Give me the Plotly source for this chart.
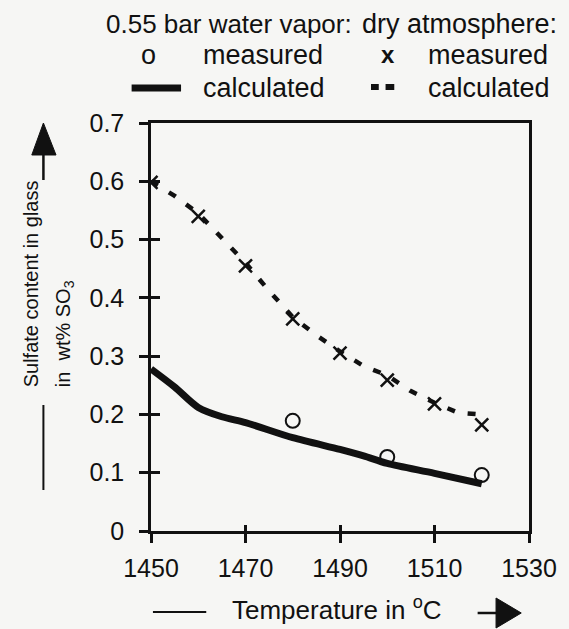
import plotly.graph_objects as go

# Sulfate retention in glass vs. melt temperature
temp_measured = [1480, 1500, 1520]
so3_water_measured = [0.189, 0.127, 0.096]

temp_water_calc = [1450, 1455, 1460, 1465, 1470, 1480, 1490, 1495, 1500, 1510, 1520]
so3_water_calc = [0.278, 0.247, 0.212, 0.196, 0.186, 0.160, 0.140, 0.129, 0.116, 0.099, 0.081]

temp_dry_measured = [1450, 1460, 1470, 1480, 1490, 1500, 1510, 1520]
so3_dry_measured = [0.598, 0.540, 0.455, 0.364, 0.305, 0.259, 0.218, 0.182]

temp_dry_calc = [1450, 1455, 1460, 1465, 1470, 1475, 1480, 1485, 1490, 1495, 1500,
                 1505, 1510, 1515, 1520]
so3_dry_calc = [0.600, 0.575, 0.545, 0.502, 0.460, 0.412, 0.367, 0.336, 0.308, 0.283,
                0.267, 0.240, 0.220, 0.203, 0.200]

x_ticks = [1450, 1470, 1490, 1510, 1530]
y_ticks = [0, 0.1, 0.2, 0.3, 0.4, 0.5, 0.6, 0.7]
y_tick_text = ["0", "0.1", "0.2", "0.3", "0.4", "0.5", "0.6", "0.7"]

INK = "#111111"
BG = "#f6f6f4"
FONT = "Liberation Sans, Arial, Helvetica, sans-serif"

W, H = 569, 629
ML, MR, MT, MB = 151, 28, 123, 98
PW, PH = W - ML - MR, H - MT - MB


def px(x):
    return (x - ML) / PW


def py(y):
    return (H - MB - y) / PH


fig = go.Figure()

fig.add_trace(go.Scatter(
    x=temp_water_calc, y=so3_water_calc, mode="lines",
    line=dict(color=INK, width=7, shape="spline", smoothing=0.8),
    showlegend=False, hoverinfo="skip"))
fig.add_trace(go.Scatter(
    x=temp_dry_calc, y=so3_dry_calc, mode="lines",
    line=dict(color=INK, width=4.5, dash="8px,13px"),
    showlegend=False, hoverinfo="skip"))
fig.add_trace(go.Scatter(
    x=temp_measured, y=so3_water_measured, mode="markers",
    marker=dict(symbol="circle-open", size=14, color=INK, line=dict(width=2, color=INK)),
    showlegend=False))
fig.add_trace(go.Scatter(
    x=temp_dry_measured, y=so3_dry_measured, mode="markers",
    marker=dict(symbol="x-thin-open", size=13, color=INK, line=dict(width=2.5, color=INK)),
    showlegend=False))

axis_common = dict(showgrid=False, zeroline=False, linecolor=INK, linewidth=2.5,
                   tickcolor=INK, tickwidth=2.5)

fig.update_layout(
    width=W, height=H,
    margin=dict(l=ML, r=MR, t=MT, b=MB, pad=0),
    paper_bgcolor=BG, plot_bgcolor=BG,
    font=dict(family=FONT, size=24, color=INK),
    showlegend=False,
    xaxis=dict(range=[1450, 1530], tickvals=x_ticks, ticks="outside", ticklen=9,
               mirror=True, showline=True, ticklabelstandoff=4,
               tickfont=dict(size=25), **axis_common),
    yaxis=dict(range=[0, 0.7], tickvals=y_ticks, ticktext=y_tick_text, ticks="outside",
               ticklen=9, mirror=True, showline=True, ticklabelstandoff=10,
               tickfont=dict(size=25), **axis_common),
    xaxis2=dict(range=[1450, 1530], tickvals=x_ticks, ticks="inside", ticklen=6,
                overlaying="x", showticklabels=False, showline=False, anchor="y",
                showgrid=False, zeroline=False, tickcolor=INK, tickwidth=2.5),
    yaxis2=dict(range=[0, 0.7], tickvals=y_ticks, ticks="inside", ticklen=9,
                overlaying="y", showticklabels=False, showline=False, anchor="x",
                showgrid=False, zeroline=False, tickcolor=INK, tickwidth=2.5),
)

# invisible trace so the inner-tick axes are drawn
fig.add_trace(go.Scatter(x=[1450], y=[0], xaxis="x2", yaxis="y2", mode="markers",
                         marker=dict(opacity=0), showlegend=False, hoverinfo="skip"))

annotations = []
shapes = []


def text(x, y, s, size=26, anchor="left", yanchor="middle", angle=0):
    annotations.append(dict(x=px(x), y=py(y), xref="paper", yref="paper", text=s,
                            showarrow=False, xanchor=anchor, yanchor=yanchor,
                            textangle=angle,
                            font=dict(family=FONT, size=size, color=INK)))


def line(x0, y0, x1, y1, width):
    shapes.append(dict(type="line", xref="paper", yref="paper",
                       x0=px(x0), y0=py(y0), x1=px(x1), y1=py(y1),
                       line=dict(color=INK, width=width)))


def triangle(points):
    path = "M " + " L ".join(f"{px(a):.5f},{py(b):.5f}" for a, b in points) + " Z"
    shapes.append(dict(type="path", xref="paper", yref="paper", path=path,
                       fillcolor=INK, line=dict(color=INK, width=1)))


# key
text(103, 24, "0.55 bar water vapor:")
text(367, 24, "dry atmosphere:", size=27)
text(139, 55, "o", size=27)
text(203, 55, "measured", size=27)
text(386, 55, "<b>x</b>", size=24)
text(435, 55, "measured", size=27)
shapes.append(dict(type="line", xref="paper", yref="paper", x0=px(131), y0=py(88),
                   x1=px(182), y1=py(88), line=dict(color=INK, width=7)))
text(203, 88, "calculated", size=27)
line(378, 87, 386, 87, 6)
line(393, 87, 402, 87, 6)
text(435, 88, "calculated", size=27)

# x-axis title with leader line and arrow
line(153, 612, 208, 612, 2)
text(232, 608, "Temperature in <sup>o</sup>C", size=26)
line(488, 613, 510, 613, 2.5)
triangle([(507, 598), (533, 613), (507, 628)])

# y-axis title with leader line and arrow
text(27, 389, "Sulfate content in glass", size=20, anchor="center", yanchor="bottom",
     angle=-90)
text(62, 389, "in  wt% SO<sub>3</sub>", size=20, anchor="center", yanchor="bottom",
     angle=-90)
line(40, 405, 40, 490, 2)
line(40, 150, 40, 180, 2.5)
triangle([(28, 155), (40, 123), (53, 155)])

fig.update_layout(annotations=annotations, shapes=shapes)

fig.write_html("out.html")
